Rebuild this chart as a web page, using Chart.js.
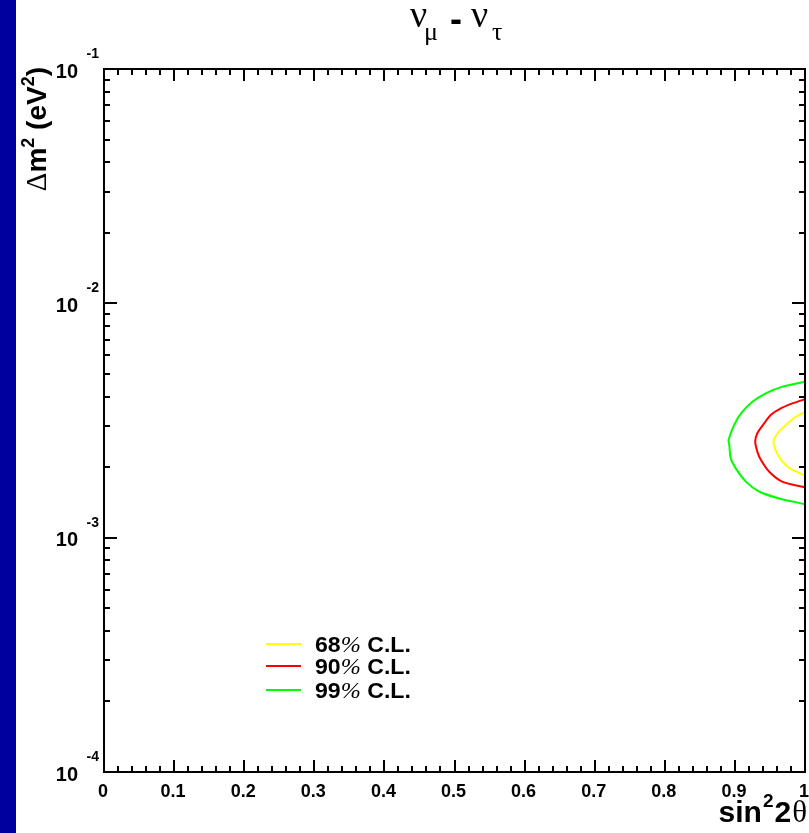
<!DOCTYPE html>
<html>
<head>
<meta charset="utf-8">
<title>nu_mu - nu_tau oscillation contours</title>
<script src="https://cdn.jsdelivr.net/npm/chart.js@4.4.1/dist/chart.umd.min.js"></script>
<style>
  html, body { margin: 0; padding: 0; background: #fff; }
  #plot { display: block; }
</style>
</head>
<body>
<canvas id="plot" width="809" height="833"></canvas>
<script>
// allowed regions in (sin^2 2theta, dm^2) plane
const sin2t99 = [1.0, 0.968, 0.944, 0.925, 0.909, 0.899, 0.891, 0.892, 0.894, 0.901, 0.916, 0.935, 0.963, 1.0];
const dm2_99  = [4.63e-3, 4.41e-3, 4.13e-3, 3.80e-3, 3.40e-3, 3.03e-3, 2.61e-3, 2.49e-3, 2.18e-3, 1.98e-3, 1.73e-3, 1.57e-3, 1.47e-3, 1.39e-3];

const sin2t90 = [1.0, 0.982, 0.963, 0.951, 0.942, 0.932, 0.929, 0.932, 0.937, 0.949, 0.968, 1.0];
const dm2_90  = [3.90e-3, 3.74e-3, 3.53e-3, 3.34e-3, 3.08e-3, 2.79e-3, 2.57e-3, 2.33e-3, 2.15e-3, 1.91e-3, 1.73e-3, 1.64e-3];

const sin2t68 = [1.0, 0.987, 0.973, 0.961, 0.955, 0.959, 0.966, 0.978, 1.0];
const dm2_68  = [3.43e-3, 3.28e-3, 3.03e-3, 2.79e-3, 2.57e-3, 2.33e-3, 2.15e-3, 1.98e-3, 1.84e-3];

const clPercent = ['68', '90', '99'];
const clColors = ['#ffff00', '#ff0000', '#00ff00'];

const xTicks = [0, 0.1, 0.2, 0.3, 0.4, 0.5, 0.6, 0.7, 0.8, 0.9, 1];
const xTickLabels = ['0', '0.1', '0.2', '0.3', '0.4', '0.5', '0.6', '0.7', '0.8', '0.9', '1'];
const yDecades = [1e-4, 1e-3, 1e-2, 1e-1];
const yExponents = ['-4', '-3', '-2', '-1'];

function pts(xs, ys) {
    return xs.map((x, i) => ({ x: x, y: ys[i] }));
}

function line(ctx, x1, y1, x2, y2) {
    ctx.beginPath();
    ctx.moveTo(x1, y1);
    ctx.lineTo(x2, y2);
    ctx.stroke();
}

// draws a row of [text, font, dx, dy] pieces left to right
function pieces(ctx, x, y, parts) {
    parts.forEach(p => {
        ctx.font = p[1];
        ctx.fillText(p[0], x, y + (p[3] || 0));
        x += ctx.measureText(p[0]).width + (p[2] || 0);
    });
    return x;
}

function piecesWidth(ctx, parts) {
    let w = 0;
    parts.forEach(p => { ctx.font = p[1]; w += ctx.measureText(p[0]).width + (p[2] || 0); });
    return w;
}

// same, stretched horizontally by sx around the start point
function widePieces(ctx, x, y, sx, parts) {
    ctx.save();
    ctx.translate(x, y);
    ctx.scale(sx, 1);
    pieces(ctx, 0, 0, parts);
    ctx.restore();
}

const BOLD = 'bold {s}px "Liberation Sans", Arial, sans-serif';
const SERIF = '{s}px "Liberation Serif", "Times New Roman", serif';
const bold = s => BOLD.replace('{s}', s);
const serif = s => SERIF.replace('{s}', s);

const rootFrame = {
    id: 'rootFrame',
    beforeDraw(chart) {
        const ctx = chart.ctx;
        ctx.save();
        ctx.fillStyle = '#ffffff';
        ctx.fillRect(0, 0, chart.width, chart.height);
        ctx.fillStyle = '#00009f';
        ctx.fillRect(0, 0, 16, chart.height);
        ctx.restore();
    },
    afterDraw(chart) {
        const ctx = chart.ctx;
        const { left, right, top, bottom } = chart.chartArea;
        const xs = chart.scales.x, ys = chart.scales.y;
        ctx.save();
        ctx.strokeStyle = '#000';
        ctx.fillStyle = '#000';

        // x ticks, bottom and top
        ctx.lineWidth = 2;
        for (let i = 0; i <= 50; i++) {
            const px = Math.round(xs.getPixelForValue(i / 50));
            const len = i % 5 === 0 ? 12 : 6;
            line(ctx, px, bottom, px, bottom - len);
            line(ctx, px, top, px, top + len);
        }
        // y ticks, left and right
        yDecades.forEach((d, k) => {
            for (let m = 1; m <= 9; m++) {
                if (k === yDecades.length - 1 && m > 1) break;
                const py = Math.round(ys.getPixelForValue(d * m));
                const len = m === 1 ? 13 : 6;
                line(ctx, left, py, left + len, py);
                line(ctx, right, py, right - len, py);
            }
        });

        // frame
        ctx.lineWidth = 2;
        ctx.strokeRect(left, top, right - left, bottom - top);

        // x tick labels
        ctx.textAlign = 'center';
        ctx.textBaseline = 'alphabetic';
        ctx.font = bold(18);
        xTicks.forEach((v, i) => {
            ctx.fillText(xTickLabels[i], xs.getPixelForValue(v) - 1, 797);
        });

        // y tick labels: 10 with exponent
        yDecades.forEach((d, i) => {
            const py = ys.getPixelForValue(d);
            ctx.textAlign = 'right';
            ctx.font = bold(20);
            ctx.fillText('10', 78, py + 8.5);
            ctx.textAlign = 'left';
            ctx.font = bold(14);
            ctx.fillText(yExponents[i], 86.5, py - 11);
        });

        // x axis title
        ctx.textAlign = 'left';
        const xt = [['sin', bold(30), 1], ['2', bold(19), 1, -15], ['2', bold(30), 1], ['\u03b8', serif(31)]];
        pieces(ctx, right + 2 - piecesWidth(ctx, xt), 822, xt);

        // y axis title, rotated
        ctx.save();
        ctx.translate(46, 67);
        ctx.rotate(-Math.PI / 2);
        const yt = [['\u0394', serif(29)], ['m', bold(28)], ['2', bold(18), 0, -12], [' (eV', bold(28)], ['2', bold(18), 0, -12], [')', bold(28)]];
        pieces(ctx, -piecesWidth(ctx, yt), 0, yt);
        ctx.restore();

        // title
        ctx.font = serif(38);
        ctx.fillText('\u03bd', 410, 27);
        ctx.font = serif(26);
        ctx.fillText('\u03bc', 424, 40);
        ctx.font = bold(36);
        ctx.fillText('-', 450, 31);
        ctx.font = serif(38);
        ctx.fillText('\u03bd', 471, 27);
        ctx.font = serif(26);
        ctx.fillText('\u03c4', 492, 40);

        // legend
        const legendY = [644, 666, 690];
        clPercent.forEach((p, i) => {
            ctx.strokeStyle = clColors[i];
            ctx.lineWidth = 2;
            line(ctx, 266, legendY[i], 301, legendY[i]);
            ctx.fillStyle = '#000';
            widePieces(ctx, 315, legendY[i] + 8, 1.05,
                [[p, bold(22)], ['%', 'italic ' + serif(23)], [' C.L.', bold(22)]]);
        });
        ctx.restore();
    }
};

new Chart(document.getElementById('plot'), {
    type: 'scatter',
    data: {
        datasets: [
            { label: '99% C.L.', data: pts(sin2t99, dm2_99), borderColor: clColors[2] },
            { label: '90% C.L.', data: pts(sin2t90, dm2_90), borderColor: clColors[1] },
            { label: '68% C.L.', data: pts(sin2t68, dm2_68), borderColor: clColors[0] }
        ]
    },
    options: {
        responsive: false,
        animation: false,
        events: [],
        layout: { padding: { left: 104, top: 69, right: 4, bottom: 61 } },
        elements: {
            point: { radius: 0 },
            line: { borderWidth: 2, tension: 0.25, fill: false }
        },
        datasets: { scatter: { showLine: true } },
        scales: {
            x: { type: 'linear', min: 0, max: 1, display: false },
            y: { type: 'logarithmic', min: 1e-4, max: 1e-1, display: false }
        },
        plugins: {
            legend: { display: false },
            tooltip: { enabled: false }
        }
    },
    plugins: [rootFrame]
});
</script>
</body>
</html>
